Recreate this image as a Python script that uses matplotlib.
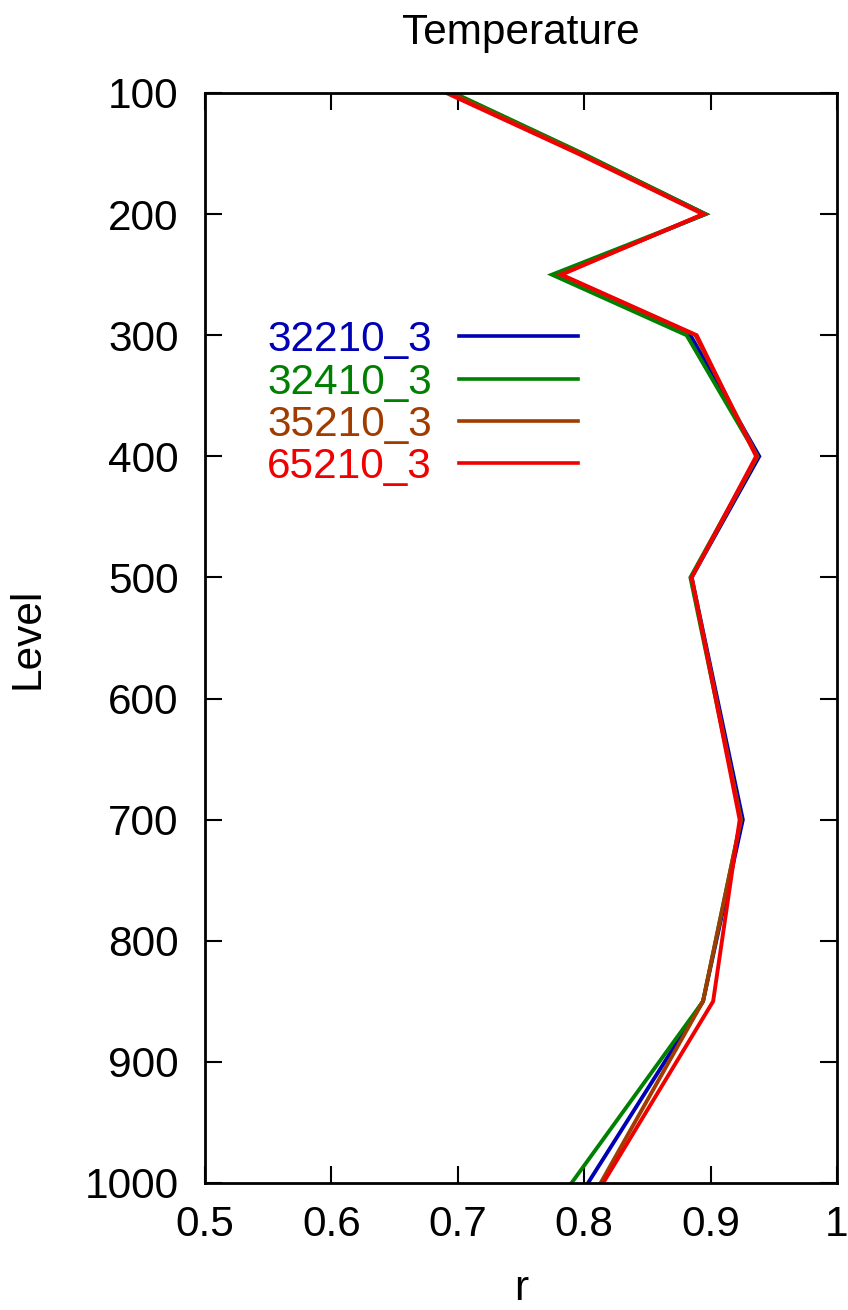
import matplotlib
matplotlib.use("Agg")
import matplotlib.pyplot as plt

plt.rcParams['font.family'] = ['Liberation Sans', 'DejaVu Sans']

# Pressure levels (hPa) and correlation r for each experiment
levels = [100, 150, 200, 250, 300, 400, 500, 700, 850, 1000]
r_32210 = [0.696, 0.798, 0.896, 0.778, 0.884, 0.9385, 0.885, 0.9255, 0.894, 0.803]
r_32410 = [0.697, 0.799, 0.896, 0.7745, 0.881, 0.937, 0.884, 0.924, 0.894, 0.790]
r_35210 = [0.694, 0.797, 0.895, 0.781, 0.888, 0.937, 0.885, 0.924, 0.894, 0.813]
r_65210 = [0.691, 0.795, 0.894, 0.782, 0.889, 0.936, 0.885, 0.923, 0.902, 0.815]

labels = ["32210_3", "32410_3", "35210_3", "65210_3"]
series = [r_32210, r_32410, r_35210, r_65210]
colors = ["#0000b4", "#008000", "#a03c00", "#f00000"]

xticks = [0.5, 0.6, 0.7, 0.8, 0.9, 1.0]
xticklabels = ["0.5", "0.6", "0.7", "0.8", "0.9", "1"]
yticks = [100, 200, 300, 400, 500, 600, 700, 800, 900, 1000]

W, H = 848, 1310
fig = plt.figure(figsize=(W / 100, H / 100), dpi=100)
ax = fig.add_axes([205 / W, 1 - 1183 / H, (837 - 205) / W, (1183 - 93) / H])

for vals, c in zip(series, colors):
    ax.plot(vals, levels, color=c, lw=2.8, solid_joinstyle='miter')

ax.set_xlim(0.5, 1.0)
ax.set_ylim(1000, 100)
ax.set_xticks(xticks)
ax.set_xticklabels(xticklabels)
ax.set_yticks(yticks)
ax.tick_params(direction='in', length=12, width=1.5, top=True, right=True,
               labelsize=30.5)
ax.tick_params(axis='y', pad=19)
ax.tick_params(axis='x', pad=16)
for s in ax.spines.values():
    s.set_linewidth(2)

# Legend: right-aligned labels followed by a line sample
rows_y = [0.777, 0.738, 0.699, 0.661]
for lab, c, yy in zip(labels, colors, rows_y):
    ax.text(0.359, yy - 0.0138, lab, color=c, fontsize=30.5, ha='right',
            va='baseline', transform=ax.transAxes)
    ax.plot([0.402, 0.590], [yy, yy], color=c, lw=2.6,
            transform=ax.transAxes, clip_on=False)

fig.text(521 / W, 1 - 44 / H, "Temperature", fontsize=30.5, ha='center',
         va='baseline')
fig.text(28 / W, 1 - 638 / H, "Level", fontsize=30.5, ha='center',
         va='center', rotation=90)
fig.text(521 / W, 1 - 1269 / H, "r", fontsize=30.5, ha='center', va='top')

fig.savefig("out.png", dpi=100)
